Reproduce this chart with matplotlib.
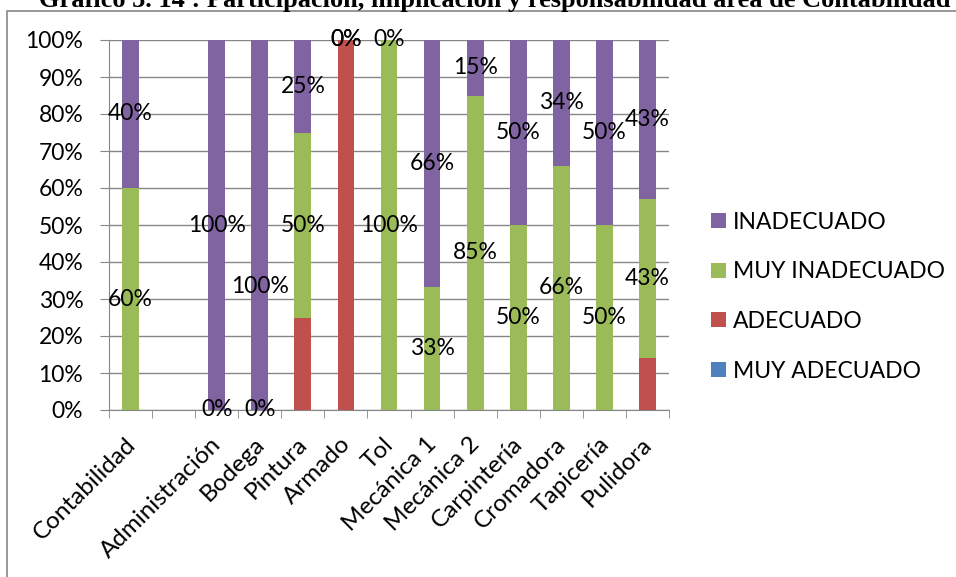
import numpy as np
import matplotlib.pyplot as plt
import matplotlib.transforms as mtrans
from matplotlib.patches import Rectangle

plt.rcParams['font.family'] = ['Lato', 'DejaVu Sans']

# categories (the second slot is an empty column in the original chart)
categorias = ['Contabilidad', '', 'Administración', 'Bodega', 'Pintura', 'Armado', 'Tol',
              'Mecánica 1', 'Mecánica 2', 'Carpintería', 'Cromadora', 'Tapicería', 'Pulidora']

# series values in percent (nan = no data)
muy_adecuado   = [0, np.nan, 0, 0, 0, 0, 0, 0, 0, 0, 0, 0, 0]
adecuado       = [0, np.nan, 0, 0, 25, 100, 0, 0, 0, 0, 0, 0, 14]
muy_inadecuado = [60, np.nan, 0, 0, 50, 0, 100, 33, 85, 50, 66, 50, 43]
inadecuado     = [40, np.nan, 100, 100, 25, 0, 0, 66, 15, 50, 34, 50, 43]

series = [('MUY ADECUADO', muy_adecuado, '#4F81BD'),
          ('ADECUADO', adecuado, '#C0504D'),
          ('MUY INADECUADO', muy_inadecuado, '#9BBB59'),
          ('INADECUADO', inadecuado, '#8064A2')]
etiquetadas = ['MUY INADECUADO', 'INADECUADO']

titulo = 'Gráfico 3. 14 : Participación, implicación y responsabilidad área de Contabilidad'

fs = 16.5
fig = plt.figure(figsize=(9.56, 5.77), dpi=100)
ax = fig.add_axes([109 / 956, 1 - 410 / 577, 560 / 956, 370 / 577])

# chart frame (runs off the bottom and right of the picture)
fig.patches.append(Rectangle((7 / 956, -0.1), 1.2, 1 - 11 / 577 + 0.1, transform=fig.transFigure,
                             fill=False, edgecolor='#868686', linewidth=1.2))

x = np.arange(len(categorias))
total = np.nansum(np.array([s[1] for s in series], dtype=float), axis=0)
total[total == 0] = 1
base = np.zeros(len(categorias))
gris = '#868686'

for nombre, vals, color in series:
    v = np.array(vals, dtype=float)
    frac = np.nan_to_num(v) / total * 100
    ax.bar(x, frac, 0.39, bottom=base, color=color, label=nombre, zorder=3)
    if nombre in etiquetadas:
        for i in range(len(categorias)):
            if np.isnan(v[i]):
                continue
            pos = 0.5
            if categorias[i] == 'Bodega' and nombre == 'INADECUADO':
                pos = 1 / 3  # label was moved down in the original
            ax.text(x[i], base[i] + frac[i] * pos, '%d%%' % v[i], ha='center', va='center',
                    fontsize=fs, color='black', zorder=5)
    base = base + frac

ax.set_xlim(-0.5, len(categorias) - 0.5)
ax.set_ylim(0, 100)
ax.set_yticks(np.arange(0, 101, 10))
ax.set_yticklabels(['%d%%' % t for t in range(0, 101, 10)], fontsize=fs)
ax.yaxis.grid(True, color=gris, linewidth=1.0, zorder=0)
ax.tick_params(axis='y', length=6.5, color=gris, pad=12)

ax.set_xticks(x)
ax.set_xticklabels(categorias, rotation=45, ha='right', va='top', rotation_mode='anchor', fontsize=17.5)
ax.set_xticks(np.arange(-0.5, len(categorias), 1), minor=True)
ax.tick_params(axis='x', which='major', length=0, pad=17)
ax.tick_params(axis='x', which='minor', length=6, color=gris)
desplaza = mtrans.ScaledTranslation(-6 / 100, 0, fig.dpi_scale_trans)
for t in ax.get_xticklabels():
    t.set_transform(t.get_transform() + desplaza)

for s in ['top', 'right']:
    ax.spines[s].set_visible(False)
for s in ['left', 'bottom']:
    ax.spines[s].set_color(gris)

h, l = ax.get_legend_handles_labels()
fig.legend(h[::-1], l[::-1], loc='center left', bbox_to_anchor=(711 / 956, 0.486), frameon=False,
           fontsize=fs, handlelength=0.65, handleheight=0.65, handletextpad=0.3,
           labelspacing=1.25, borderpad=0, borderaxespad=0)

fig.text(495 / 956, 1 - 7 / 577, titulo, ha='center', va='baseline', fontsize=19,
         fontweight='bold', family='Liberation Serif')

fig.savefig('out.png', dpi=100)
